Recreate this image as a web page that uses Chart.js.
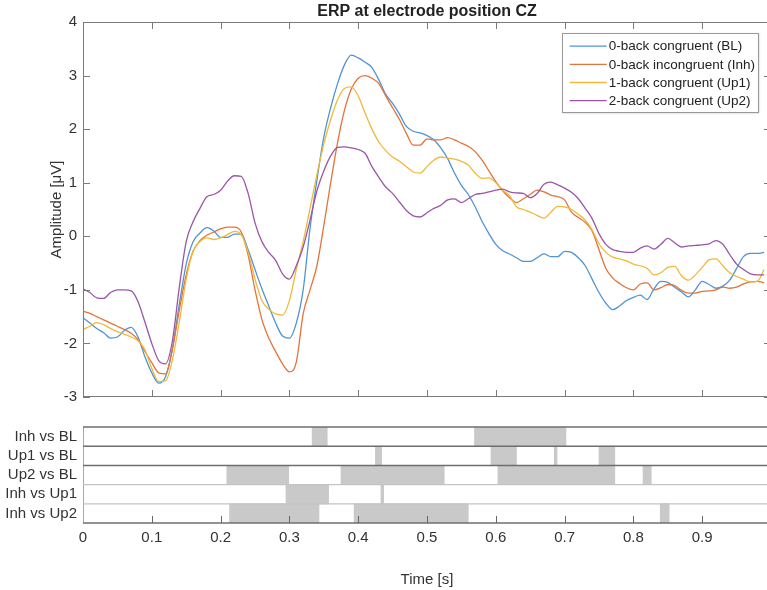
<!DOCTYPE html>
<html><head><meta charset="utf-8">
<script src="https://cdn.jsdelivr.net/npm/chart.js@4.4.0/dist/chart.umd.min.js"></script>
<style>
html,body{margin:0;padding:0;background:#fff;overflow:hidden;width:767px;height:590px;}
#top{position:absolute;left:0;top:0;width:780px;height:412px;}
#bot{position:absolute;left:0;top:412px;width:780px;height:178px;}
</style></head><body>
<div id="top"><canvas id="c1"></canvas></div>
<div id="bot"><canvas id="c2"></canvas></div>
<script>
// ---- data ----
const times = [0.00,0.01,0.02,0.03,0.04,0.05,0.06,0.07,0.08,0.09,0.10,0.11,0.12,0.13,0.14,0.15,0.16,0.17,0.18,0.19,0.20,0.21,0.22,0.23,0.24,0.25,0.26,0.27,0.28,0.29,0.30,0.31,0.32,0.33,0.34,0.35,0.36,0.37,0.38,0.39,0.40,0.41,0.42,0.43,0.44,0.45,0.46,0.47,0.48,0.49,0.50,0.51,0.52,0.53,0.54,0.55,0.56,0.57,0.58,0.59,0.60,0.61,0.62,0.63,0.64,0.65,0.66,0.67,0.68,0.69,0.70,0.71,0.72,0.73,0.74,0.75,0.76,0.77,0.78,0.79,0.80,0.81,0.82,0.83,0.84,0.85,0.86,0.87,0.88,0.89,0.90,0.91,0.92,0.93,0.94,0.95,0.96,0.97,0.98,0.99];
const ampBL = [-1.52,-1.62,-1.72,-1.80,-1.90,-1.88,-1.76,-1.70,-1.88,-2.25,-2.55,-2.74,-2.62,-2.10,-1.27,-0.52,-0.10,0.06,0.16,0.10,-0.02,-0.02,0.04,0.04,-0.25,-0.62,-0.98,-1.30,-1.62,-1.86,-1.90,-1.62,-1.00,0.15,1.05,1.85,2.40,2.85,3.20,3.38,3.33,3.25,3.15,2.92,2.65,2.48,2.28,2.05,1.96,1.93,1.88,1.80,1.65,1.45,1.18,0.95,0.78,0.55,0.28,0.05,-0.15,-0.27,-0.33,-0.40,-0.47,-0.47,-0.40,-0.33,-0.38,-0.38,-0.28,-0.30,-0.40,-0.55,-0.80,-1.05,-1.25,-1.37,-1.30,-1.20,-1.14,-1.10,-1.18,-0.98,-0.84,-0.86,-0.95,-1.04,-1.13,-1.00,-0.84,-0.90,-0.97,-0.93,-0.82,-0.60,-0.38,-0.32,-0.32,-0.30];
const ampInh = [-1.40,-1.44,-1.50,-1.56,-1.62,-1.68,-1.74,-1.81,-1.93,-2.15,-2.36,-2.55,-2.57,-2.10,-1.38,-0.72,-0.28,-0.08,0.02,0.08,0.14,0.17,0.17,0.08,-0.35,-1.00,-1.55,-1.90,-2.15,-2.38,-2.53,-2.35,-1.45,-1.00,-0.55,0.20,1.00,1.75,2.35,2.75,2.95,3.00,2.95,2.85,2.62,2.40,2.18,1.92,1.70,1.70,1.82,1.80,1.80,1.84,1.80,1.74,1.68,1.58,1.42,1.22,1.02,0.85,0.72,0.63,0.70,0.78,0.86,0.83,0.77,0.74,0.68,0.45,0.35,0.26,0.10,-0.25,-0.60,-0.78,-0.88,-0.96,-1.00,-0.89,-0.87,-1.00,-0.96,-0.90,-0.92,-1.01,-1.06,-1.06,-1.03,-1.02,-1.00,-0.95,-0.97,-0.95,-0.89,-0.85,-0.84,-0.87];
const ampUp1 = [-1.74,-1.68,-1.61,-1.65,-1.72,-1.78,-1.83,-1.88,-1.95,-2.12,-2.47,-2.71,-2.70,-2.30,-1.60,-0.80,-0.28,-0.10,-0.03,-0.06,-0.03,0.03,0.09,0.03,-0.30,-0.80,-1.20,-1.36,-1.45,-1.47,-1.20,-0.62,-0.10,0.52,1.15,1.72,2.18,2.55,2.76,2.79,2.62,2.30,2.00,1.76,1.60,1.48,1.40,1.30,1.20,1.18,1.30,1.42,1.48,1.46,1.44,1.40,1.33,1.18,1.08,1.09,1.00,0.86,0.76,0.55,0.50,0.45,0.39,0.34,0.45,0.56,0.55,0.50,0.41,0.30,0.12,-0.14,-0.30,-0.39,-0.42,-0.46,-0.52,-0.55,-0.60,-0.72,-0.68,-0.58,-0.56,-0.74,-0.82,-0.72,-0.58,-0.44,-0.42,-0.55,-0.68,-0.75,-0.80,-0.85,-0.84,-0.62];
const ampUp2 = [-0.98,-1.05,-1.15,-1.16,-1.05,-1.00,-1.00,-1.02,-1.22,-1.60,-2.00,-2.32,-2.38,-1.95,-0.95,-0.10,0.27,0.52,0.74,0.78,0.86,1.03,1.13,1.12,0.80,0.25,-0.10,-0.30,-0.45,-0.70,-0.80,-0.55,-0.20,0.30,0.85,1.22,1.50,1.66,1.67,1.65,1.62,1.55,1.30,1.10,0.92,0.80,0.64,0.48,0.38,0.36,0.44,0.52,0.58,0.68,0.70,0.63,0.70,0.78,0.80,0.83,0.86,0.88,0.83,0.81,0.80,0.72,0.80,0.97,1.01,0.96,0.90,0.82,0.70,0.52,0.33,0.05,-0.15,-0.25,-0.28,-0.30,-0.30,-0.22,-0.18,-0.24,-0.15,-0.04,-0.12,-0.20,-0.18,-0.17,-0.16,-0.14,-0.08,-0.15,-0.34,-0.52,-0.62,-0.70,-0.72,-0.72];
const seriesNames = ['0-back congruent (BL)','0-back incongruent (Inh)','1-back congruent (Up1)','2-back congruent (Up2)'];
const yTicks = [-3,-2,-1,0,1,2,3,4];
const xTicks = [0.1,0.2,0.3,0.4,0.5,0.6,0.7,0.8,0.9];

const rowLabels = ['Inh vs BL','Up1 vs BL','Up2 vs BL','Inh vs Up1','Inh vs Up2'];
const sigInhBL  = [[0.333,0.355],[0.569,0.702]];
const sigUp1BL  = [[0.425,0.434],[0.593,0.630],[0.685,0.689],[0.750,0.773]];
const sigUp2BL  = [[0.209,0.299],[0.375,0.525],[0.603,0.773],[0.814,0.826]];
const sigInhUp1 = [[0.295,0.357],[0.433,0.437]];
const sigInhUp2 = [[0.213,0.343],[0.394,0.560],[0.839,0.852]];

// ---- styling ----
const FONT = '"Liberation Sans", Arial, Helvetica, sans-serif';
Chart.defaults.font.family = FONT;
Chart.defaults.color = '#333';
const colors = ['#4f94d4','#e3733a','#f0b93a','#9a55a8'];
const series = [ampBL, ampInh, ampUp1, ampUp2];

const boxPlugin = {
  id: 'boxTicks',
  afterDraw(chart) {
    const {ctx, chartArea: a} = chart;
    const xs = chart.scales.x, ys = chart.scales.y;
    ctx.save();
    ctx.strokeStyle = '#7a7a7a';
    ctx.lineWidth = 1;
    ctx.strokeRect(a.left + 0.5, a.top + 0.5, a.right - a.left - 1, a.bottom - a.top - 1);
    ctx.beginPath();
    xTicks.forEach(v => {
      const px = Math.round(xs.getPixelForValue(v)) + 0.5;
      ctx.moveTo(px, a.bottom); ctx.lineTo(px, a.bottom - 7);
      ctx.moveTo(px, a.top); ctx.lineTo(px, a.top + 7);
    });
    yTicks.forEach(v => {
      const py = Math.round(ys.getPixelForValue(v)) + 0.5;
      ctx.moveTo(a.left, py); ctx.lineTo(a.left + 7, py);
      ctx.moveTo(a.right, py); ctx.lineTo(a.right - 7, py);
    });
    ctx.stroke();
    // legend box
    const ds = chart.data.datasets;
    ctx.font = '13.5px ' + FONT;
    const tw = Math.max(...ds.map(d => ctx.measureText(d.label).width));
    const lineLen = 37, padL = 8, gap = 2, padR = 3, rowH = 18.2, padT = 4;
    const w = padL + lineLen + gap + tw + padR;
    const h = ds.length * rowH + padT + 2.3;
    const bx = a.right - 13 - w, by = a.top + 11;
    ctx.save();
    ctx.shadowColor = 'rgba(0,0,0,0.25)'; ctx.shadowBlur = 2; ctx.shadowOffsetX = 1; ctx.shadowOffsetY = 1;
    ctx.fillStyle = '#fff';
    ctx.fillRect(bx, by, w, h);
    ctx.restore();
    ctx.strokeStyle = '#999';
    ctx.strokeRect(Math.round(bx) + 0.5, Math.round(by) + 0.5, Math.round(w), Math.round(h));
    ctx.textBaseline = 'middle';
    ctx.textAlign = 'left';
    ds.forEach((d, i) => {
      const cy = by + padT + rowH * (i + 0.5);
      ctx.strokeStyle = d.borderColor; ctx.lineWidth = 1.3;
      ctx.beginPath(); ctx.moveTo(bx + padL, cy); ctx.lineTo(bx + padL + lineLen, cy); ctx.stroke();
      ctx.fillStyle = '#222';
      ctx.fillText(d.label, bx + padL + lineLen + gap, cy + 0.5);
    });
    ctx.restore();
  }
};

new Chart(document.getElementById('c1'), {
  type: 'line',
  data: {
    datasets: series.map((s, k) => ({
      label: seriesNames[k],
      data: times.map((t, i) => ({x: t, y: s[i]})),
      borderColor: colors[k],
      borderWidth: 1.3,
      pointRadius: 0,
      cubicInterpolationMode: 'monotone',
      fill: false,
      order: 4 - k
    }))
  },
  options: {
    responsive: true, maintainAspectRatio: false, animation: false,
    layout: {padding: {left: 0, right: 9, top: 0, bottom: 6}},
    scales: {
      x: {type: 'linear', min: 0, max: 1, display: false},
      y: {
        min: -3, max: 4,
        ticks: {stepSize: 1, font: {size: 15}, color: '#333', padding: 6},
        grid: {display: false, drawTicks: false},
        border: {display: false},
        title: {display: true, text: 'Amplitude [\u03bcV]', font: {size: 15}, color: '#333', padding: {top: 48, bottom: 0}},
        afterFit(s) { s.width = 83; }
      }
    },
    plugins: {
      legend: {display: false},
      tooltip: {enabled: false},
      title: {display: true, text: 'ERP at electrode position CZ', font: {size: 16, weight: 'bold'}, color: '#222', padding: {top: 2.4, bottom: 0.4}, fullSize: false}
    }
  },
  plugins: [boxPlugin]
});

// ---- significance panel ----
const sigRows = [sigInhBL, sigUp1BL, sigUp2BL, sigInhUp1, sigInhUp2];
const maxN = Math.max(...sigRows.map(r => r.length));
const sigSets = [];
for (let k = 0; k < maxN; k++) {
  sigSets.push({
    data: sigRows.map(r => r[k] ? r[k] : null),
    backgroundColor: '#c9c9c9',
    borderWidth: 0,
    barPercentage: 1,
    categoryPercentage: 1,
    grouped: false
  });
}

const rowPlugin = {
  id: 'rowLines',
  afterDatasetsDraw(chart) {
    const {ctx, chartArea: a} = chart;
    const ys = chart.scales.y, xs = chart.scales.x;
    const half = (ys.getPixelForValue(1) - ys.getPixelForValue(0)) / 2;
    const lineCols = ['#6e6e6e','#6e6e6e','#6e6e6e','#c4c4c4','#c4c4c4','#6e6e6e'];
    const lineW = [1.5,1.5,1.5,1.2,1.2,1.5];
    ctx.save();
    ctx.strokeStyle = '#a8a8a8'; ctx.lineWidth = 1;
    ctx.beginPath(); ctx.moveTo(a.left + 0.5, a.top); ctx.lineTo(a.left + 0.5, a.bottom); ctx.stroke();
    for (let i = 0; i <= rowLabels.length; i++) {
      const y = ys.getPixelForValue(Math.min(i, rowLabels.length - 1)) + (i < rowLabels.length ? -half : half);
      ctx.strokeStyle = lineCols[i]; ctx.lineWidth = lineW[i];
      ctx.beginPath(); ctx.moveTo(a.left, y); ctx.lineTo(a.right, y); ctx.stroke();
    }
    ctx.strokeStyle = '#666'; ctx.lineWidth = 1;
    ctx.beginPath();
    xTicks.forEach(v => {
      const px = Math.round(xs.getPixelForValue(v)) + 0.5;
      ctx.moveTo(px, a.bottom); ctx.lineTo(px, a.bottom - 7);
    });
    ctx.stroke();
    ctx.restore();
  }
};

new Chart(document.getElementById('c2'), {
  type: 'bar',
  data: {labels: rowLabels, datasets: sigSets},
  options: {
    indexAxis: 'y',
    responsive: true, maintainAspectRatio: false, animation: false,
    layout: {padding: {left: 0, right: 9, top: 12, bottom: 0}},
    scales: {
      x: {
        type: 'linear', min: 0, max: 1,
        ticks: {stepSize: 0.1, autoSkip: false, maxRotation: 0, font: {size: 15}, color: '#333', padding: 6,
          callback: v => v > 0.95 ? '' : String(Math.round(v * 10) / 10)},
        grid: {display: false, drawTicks: false},
        border: {display: false},
        title: {display: true, text: 'Time [s]', font: {size: 15}, color: '#333', padding: {top: 0, bottom: 1}},
        afterFit(s) { s.height = 67; }
      },
      y: {
        ticks: {font: {size: 15}, color: '#333', padding: 6, autoSkip: false},
        grid: {display: false, drawTicks: false},
        border: {display: false},
        afterFit(s) { s.width = 83; }
      }
    },
    plugins: {legend: {display: false}, tooltip: {enabled: false}}
  },
  plugins: [rowPlugin]
});
</script>
</body></html>
